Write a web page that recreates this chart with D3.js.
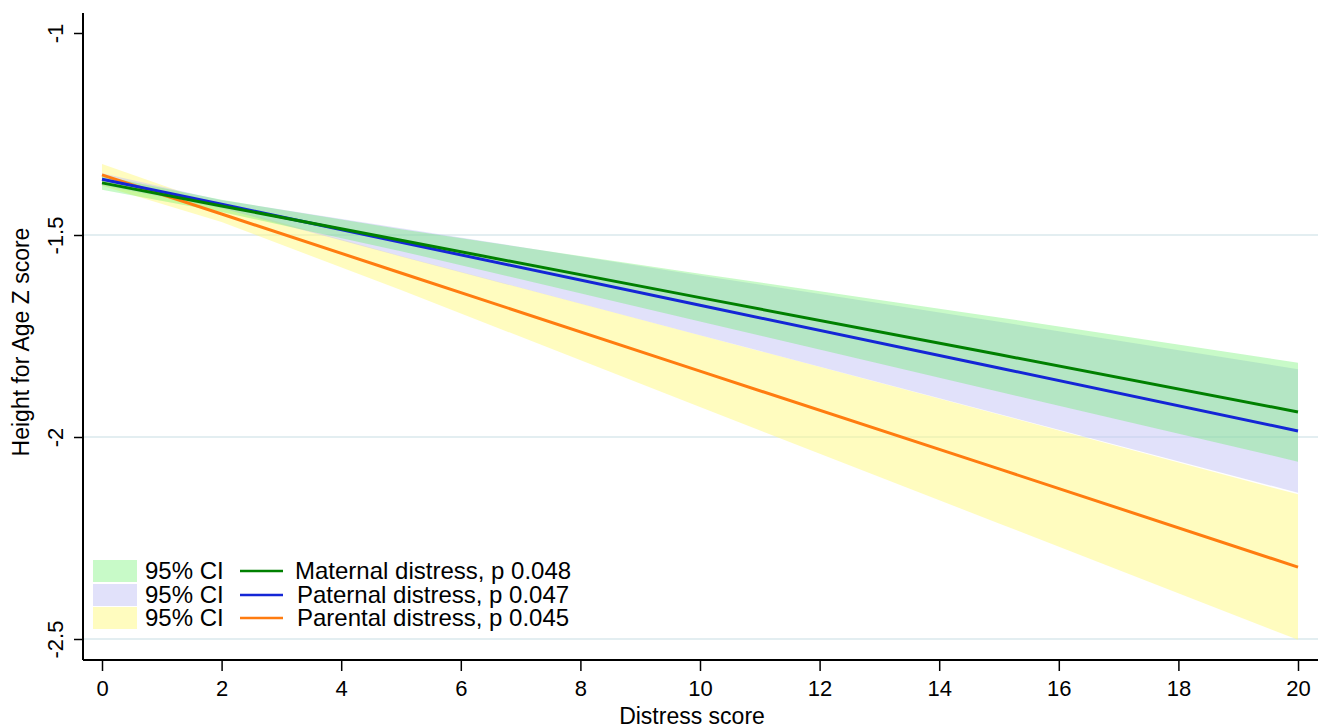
<!DOCTYPE html>
<html>
<head>
<meta charset="utf-8">
<script src="https://cdn.jsdelivr.net/npm/d3@7"></script>
<style>
  body { margin: 0; background: #fff; }
  svg text { font-family: "Liberation Sans", Arial, Helvetica, sans-serif; fill: #000; }
</style>
</head>
<body>
<div id="chart"></div>
<script>
////////////////////////////////////////
// data
////////////////////////////////////////

var scoreX = [0, 2, 5, 10, 15, 20];

var maternalFit = [-1.371, -1.428, -1.513, -1.655, -1.796, -1.938];
var maternalLo  = [-1.388, -1.443, -1.540, -1.714, -1.888, -2.061];
var maternalHi  = [-1.354, -1.413, -1.486, -1.596, -1.704, -1.816];

var paternalFit = [-1.362, -1.424, -1.518, -1.674, -1.829, -1.985];
var paternalLo  = [-1.377, -1.434, -1.553, -1.748, -1.943, -2.138];
var paternalHi  = [-1.347, -1.414, -1.483, -1.600, -1.715, -1.832];

var parentalFit = [-1.351, -1.448, -1.594, -1.837, -2.079, -2.322];
var parentalLo  = [-1.378, -1.468, -1.636, -1.926, -2.214, -2.502];
var parentalHi  = [-1.324, -1.428, -1.552, -1.748, -1.944, -2.142];

var seriesNames = ["Maternal distress, p 0.048", "Paternal distress, p 0.047", "Parental distress, p 0.045"];
var ciLabel = "95% CI";

var xTicks = [0, 2, 4, 6, 8, 10, 12, 14, 16, 18, 20];
var yTicks = [-1, -1.5, -2, -2.5];
var yGrid = [-1.5, -2, -2.5];

////////////////////////////////////////

var width = 1329, height = 728;

var lineColors = ["#008000", "#1426d6", "#ff7c10"];
// band fills are see-through so the overlaps mix like the original
var bandColors = ["rgb(90,240,90)", "rgb(195,195,245)", "rgb(255,250,128)"];
var bandAlpha = [0.333, 0.5, 0.5];

var series = [
    { name: seriesNames[0], fit: maternalFit, lo: maternalLo, hi: maternalHi },
    { name: seriesNames[1], fit: paternalFit, lo: paternalLo, hi: paternalHi },
    { name: seriesNames[2], fit: parentalFit, lo: parentalLo, hi: parentalHi }
];

var svg = d3.select("#chart").append("svg")
    .attr("width", width)
    .attr("height", height);

var x = d3.scaleLinear().domain([0, 20]).range([102, 1298]);
var y = d3.scaleLinear().domain([-1, -2.5]).range([33, 639]);

var plotLeft = 83, plotRight = 1318, plotTop = 13, plotBottom = 660;

// grid lines
svg.append("g").selectAll("line")
    .data(yGrid)
    .enter().append("line")
    .attr("x1", plotLeft).attr("x2", plotRight)
    .attr("y1", function(d) { return y(d); })
    .attr("y2", function(d) { return y(d); })
    .style("stroke", "#e3eef1")
    .style("stroke-width", 2);

////////////////////////////////////////
// confidence bands, back to front

var area = d3.area()
    .x(function(d) { return x(d.x); })
    .y0(function(d) { return y(d.lo); })
    .y1(function(d) { return y(d.hi); });

[2, 1, 0].forEach(function(i) {
    var s = series[i];
    var pts = scoreX.map(function(v, j) { return { x: v, lo: s.lo[j], hi: s.hi[j] }; });
    svg.append("path")
        .attr("d", area(pts))
        .style("fill", bandColors[i])
        .style("fill-opacity", bandAlpha[i]);
});

////////////////////////////////////////
// fitted lines

var line = d3.line()
    .x(function(d) { return x(d.x); })
    .y(function(d) { return y(d.y); });

[2, 1, 0].forEach(function(i) {
    var s = series[i];
    var pts = scoreX.map(function(v, j) { return { x: v, y: s.fit[j] }; });
    svg.append("path")
        .attr("d", line(pts))
        .style("fill", "none")
        .style("stroke", lineColors[i])
        .style("stroke-width", 3);
});

////////////////////////////////////////
// axes

var xAxis = d3.axisBottom(x).tickValues(xTicks).tickSize(11)
    .tickFormat(d3.format("d"));
var gx = svg.append("g").attr("transform", "translate(0," + plotBottom + ")").call(xAxis);
gx.select(".domain").remove();
gx.append("line")
    .attr("x1", plotLeft).attr("x2", plotRight)
    .attr("y1", 0).attr("y2", 0)
    .style("stroke", "#000").style("stroke-width", 2);
gx.selectAll(".tick line").style("stroke", "#000").style("stroke-width", 1.5);
gx.selectAll(".tick text")
    .attr("y", 36).attr("dy", null)
    .style("font-size", "22px").style("fill", "#000");

var yAxis = d3.axisLeft(y).tickValues(yTicks).tickSize(9)
    .tickFormat(function(d) { return String(d); });
var gy = svg.append("g").attr("transform", "translate(" + plotLeft + ",0)").call(yAxis);
gy.select(".domain").remove();
gy.append("line")
    .attr("x1", 0).attr("x2", 0)
    .attr("y1", plotTop).attr("y2", plotBottom)
    .style("stroke", "#000").style("stroke-width", 2);
gy.selectAll(".tick line").style("stroke", "#000").style("stroke-width", 1.5);
gy.selectAll(".tick text")
    .attr("x", null).attr("dy", null)
    .attr("transform", "translate(-20,0) rotate(-90)")
    .style("text-anchor", "middle")
    .style("font-size", "22px")
    .style("fill", "#000");

svg.append("text")
    .attr("transform", "translate(29,342) rotate(-90)")
    .style("text-anchor", "middle")
    .style("font-size", "23px")
    .text("Height for Age Z score");

svg.append("text")
    .attr("x", 692).attr("y", 724)
    .style("text-anchor", "middle")
    .style("font-size", "23px")
    .text("Distress score");

////////////////////////////////////////
// legend

var legend = svg.append("g");
var rowY = [571, 595, 618];

series.forEach(function(s, i) {
    legend.append("rect")
        .attr("x", 93).attr("y", rowY[i] - 11)
        .attr("width", 44).attr("height", 22)
        .style("fill", bandColors[i])
        .style("fill-opacity", bandAlpha[i]);
    legend.append("text")
        .attr("x", 145).attr("y", rowY[i] + 8)
        .style("font-size", "24px")
        .text(ciLabel);
    legend.append("line")
        .attr("x1", 240).attr("x2", 283)
        .attr("y1", rowY[i]).attr("y2", rowY[i])
        .style("stroke", lineColors[i])
        .style("stroke-width", 2.5);
    legend.append("text")
        .attr("x", i === 0 ? 295 : 297).attr("y", rowY[i] + 8)
        .style("font-size", "24px")
        .text(s.name);
});
</script>
</body>
</html>
